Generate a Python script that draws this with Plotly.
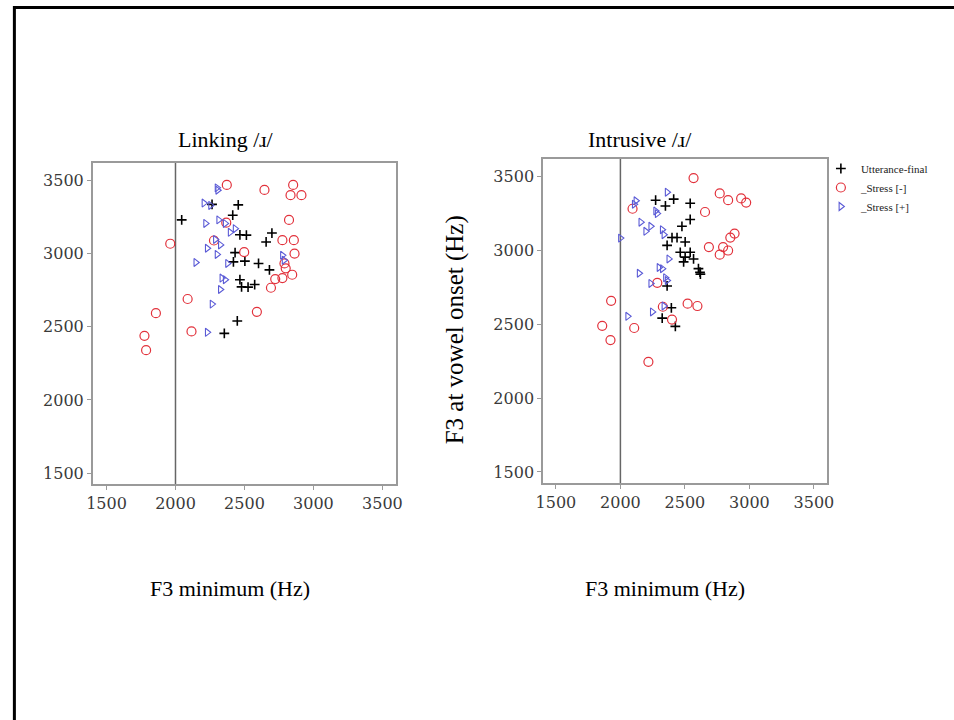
import plotly.graph_objects as go

# ---------------- data ----------------
TICKS = [1500, 2000, 2500, 3000, 3500]
REF_LINE_X = 2000
PANEL_TITLES = ["Linking /\u0279/", "Intrusive /\u0279/"]
X_TITLE = "F3 minimum (Hz)"
Y_TITLE = "F3 at vowel onset (Hz)"
SERIES_NAMES = ["Utterance-final", "_Stress [-]", "_Stress [+]"]

# Linking panel
link_utt_x = [2045, 2265, 2455, 2415, 2467, 2514, 2699, 2657, 2432, 2503, 2420, 2602, 2681, 2467, 2479, 2526, 2574, 2448, 2354]
link_utt_y = [3231, 3337, 3334, 3263, 3129, 3127, 3141, 3080, 3007, 2949, 2944, 2933, 2889, 2822, 2773, 2771, 2789, 2540, 2455]

link_sm_x = [2372, 2645, 2853, 2834, 2913, 2823, 1962, 2775, 2858, 2498, 2863, 2790, 2799, 2846, 2775, 2723, 2692, 2088, 2590, 1858, 2116, 1775, 1787, 2279, 2368]
link_sm_y = [3470, 3436, 3470, 3400, 3400, 3231, 3068, 3092, 3092, 3010, 3000, 2933, 2900, 2856, 2833, 2826, 2767, 2690, 2602, 2593, 2468, 2438, 2340, 3090, 3212]

link_sp_x = [2306, 2301, 2206, 2254, 2218, 2313, 2360, 2432, 2396, 2289, 2325, 2230, 2301, 2147, 2377, 2775, 2787, 2336, 2360, 2325, 2265, 2230]
link_sp_y = [3434, 3450, 3346, 3330, 3207, 3231, 3207, 3171, 3146, 3097, 3060, 3037, 2995, 2940, 2933, 2989, 2955, 2833, 2822, 2755, 2655, 2462]

# Intrusive panel
intr_utt_x = [2273, 2349, 2413, 2541, 2541, 2477, 2400, 2439, 2502, 2362, 2464, 2541, 2502, 2567, 2490, 2605, 2617, 2620, 2362, 2324, 2426, 2395]
intr_utt_y = [3341, 3302, 3348, 3320, 3210, 3164, 3088, 3088, 3058, 3035, 2988, 2988, 2955, 2943, 2923, 2877, 2853, 2840, 2760, 2542, 2486, 2612]

intr_sm_x = [2567, 2770, 2835, 2936, 2975, 2656, 2094, 2885, 2852, 2796, 2835, 2686, 2770, 2286, 1928, 2329, 2521, 2597, 2400, 1859, 2107, 1923, 2217]
intr_sm_y = [3491, 3387, 3341, 3353, 3325, 3261, 3283, 3115, 3088, 3023, 3000, 3023, 2972, 2781, 2659, 2619, 2640, 2624, 2532, 2490, 2475, 2393, 2246]

intr_sp_x = [2362, 2120, 2107, 2273, 2285, 2158, 2235, 2196, 2324, 2337, 2000, 2375, 2299, 2325, 2145, 2349, 2362, 2235, 2247, 2337, 2056]
intr_sp_y = [3395, 3337, 3314, 3268, 3250, 3192, 3164, 3130, 3141, 3107, 3084, 2943, 2885, 2877, 2846, 2816, 2797, 2777, 2584, 2624, 2554]

# ---------------- styles ----------------
W, H = 954, 720
SERIF = "Liberation Serif, Times New Roman, serif"
TICKFONT = dict(family="DejaVu Serif, serif", size=16, color="#3a3a3a")
TITLEFONT = dict(family=SERIF, size=22, color="black")

styles = [
    dict(symbol="cross-thin-open", size=7, color="black", line=dict(color="black", width=1.6)),
    dict(symbol="circle-open", size=9, color="#e2323c", line=dict(color="#e2323c", width=1.2)),
    dict(symbol="triangle-right-open", size=7, color="#5b5bd6", line=dict(color="#5b5bd6", width=1.1)),
]

fig = go.Figure()

panels = [
    ("x", "y", [(link_utt_x, link_utt_y), (link_sm_x, link_sm_y), (link_sp_x, link_sp_y)], False),
    ("x2", "y2", [(intr_utt_x, intr_utt_y), (intr_sm_x, intr_sm_y), (intr_sp_x, intr_sp_y)], True),
]
for xa, ya, series, show in panels:
    for i, (xs, ys) in enumerate(series):
        fig.add_trace(go.Scatter(
            x=xs, y=ys, mode="markers", xaxis=xa, yaxis=ya,
            name=SERIES_NAMES[i], legendgroup=SERIES_NAMES[i], showlegend=show,
            marker=styles[i],
        ))

def px_dom_x(a, b):
    return [a / W, b / W]

def px_dom_y(top, bottom):
    return [1 - bottom / H, 1 - top / H]

axis_common = dict(
    range=[1400, 3600], tickvals=TICKS, showgrid=False, zeroline=False,
    showline=True, linecolor="#9a9a9a", linewidth=1.5, mirror=True,
    ticks="outside", ticklen=4, tickcolor="#9a9a9a", tickwidth=1.2,
    tickfont=TICKFONT,
)
yaxis_common = dict(axis_common, range=[1425, 3620])

fig.update_layout(
    width=W, height=H,
    margin=dict(l=0, r=0, t=0, b=0),
    paper_bgcolor="white", plot_bgcolor="white",
    xaxis=dict(axis_common, domain=px_dom_x(87, 395), anchor="y"),
    yaxis=dict(yaxis_common, domain=px_dom_y(163, 484), anchor="x"),
    xaxis2=dict(axis_common, domain=px_dom_x(544, 832), anchor="y2"),
    yaxis2=dict(yaxis_common, domain=px_dom_y(159, 483), anchor="x2"),
    legend=dict(x=826 / W, y=1 - 154 / H, xanchor="left", yanchor="top",
                font=dict(family=SERIF, size=11, color="#222"),
                bgcolor="rgba(0,0,0,0)", borderwidth=0, itemwidth=30,
                tracegroupgap=0),
    showlegend=True,
)

# reference lines at F3 = 2000 Hz
for xa, ya in [("x", "y"), ("x2", "y2")]:
    fig.add_shape(type="line", xref=xa, yref=f"{ya} domain", x0=REF_LINE_X, x1=REF_LINE_X,
                  y0=0, y1=1, line=dict(color="#666666", width=1.5), layer="below")

# panel titles
for txt, cx in zip(PANEL_TITLES, [222, 642]):
    fig.add_annotation(text=txt, xref="paper", yref="paper", x=cx / W, y=1 - 139 / H,
                       xanchor="center", yanchor="middle",
                       showarrow=False, font=TITLEFONT)

# x-axis titles
for cx in [226, 668]:
    fig.add_annotation(text=X_TITLE, xref="paper", yref="paper", x=cx / W, y=1 - 588 / H,
                       xanchor="center", yanchor="middle", showarrow=False, font=TITLEFONT)

# y-axis title (right panel)
fig.add_annotation(text=Y_TITLE, xref="paper", yref="paper", x=455 / W, y=1 - 330 / H,
                   xanchor="center", yanchor="middle", textangle=-90, showarrow=False,
                   font=dict(family=SERIF, size=25, color="black"))

# slide frame
fig.add_shape(type="rect", xref="paper", yref="paper",
              x0=7.5 / W, x1=1.05, y0=-0.05, y1=1 - 7.5 / H,
              line=dict(color="black", width=3), fillcolor="rgba(0,0,0,0)")

fig.write_html("out.html")
